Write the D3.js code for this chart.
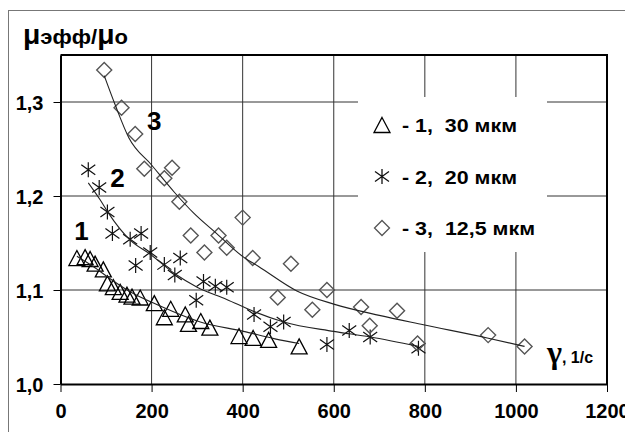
<!DOCTYPE html>
<html>
<head>
<meta charset="utf-8">
<script src="https://cdn.jsdelivr.net/npm/d3@7"></script>
<style>
  body { margin: 0; background: #fff; }
  text { font-family: "Liberation Sans", Arial, sans-serif; font-weight: bold; fill: #000; }
</style>
</head>
<body>
<div id="chart"></div>
<script>
// ticks
var xTicks = [0, 200, 400, 600, 800, 1000, 1200];
var yTicks = [1.0, 1.1, 1.2, 1.3];

// series 1 - 30 mkm (triangles)
var s1Shear = [36, 54, 65, 76, 94, 103, 116, 131, 146, 157, 175, 206, 228, 242, 274, 281, 308, 328, 392, 423, 457, 524];
var s1Visc = [1.134, 1.135, 1.133, 1.128, 1.122, 1.107, 1.103, 1.098, 1.095, 1.093, 1.092, 1.086, 1.071, 1.080, 1.074, 1.064, 1.067, 1.060, 1.051, 1.049, 1.047, 1.040];
var s1LineX = [36, 72, 109, 150, 219, 307, 402, 471, 524];
var s1LineY = [1.136, 1.125, 1.112, 1.099, 1.083, 1.066, 1.056, 1.048, 1.043];

// series 2 - 20 mkm (asterisks)
var s2Shear = [61, 85, 103, 114, 153, 165, 177, 197, 228, 251, 263, 298, 314, 340, 365, 425, 461, 490, 585, 634, 680, 786];
var s2Visc = [1.228, 1.209, 1.183, 1.160, 1.154, 1.126, 1.160, 1.140, 1.127, 1.116, 1.134, 1.089, 1.109, 1.104, 1.103, 1.074, 1.061, 1.066, 1.042, 1.057, 1.050, 1.038];
var s2LineX = [61, 87, 105, 153, 197, 252, 300, 365, 425, 490, 600, 680, 786];
var s2LineY = [1.214, 1.196, 1.182, 1.153, 1.138, 1.117, 1.103, 1.090, 1.077, 1.066, 1.056, 1.050, 1.040];

// series 3 - 12,5 mkm (diamonds)
var s3Shear = [96, 134, 164, 184, 228, 245, 261, 286, 316, 347, 365, 400, 422, 477, 506, 553, 585, 660, 679, 739, 784, 939, 1019];
var s3Visc = [1.334, 1.294, 1.266, 1.229, 1.219, 1.230, 1.194, 1.158, 1.140, 1.158, 1.145, 1.177, 1.134, 1.092, 1.128, 1.079, 1.100, 1.082, 1.062, 1.078, 1.043, 1.052, 1.040];
var s3LineX = [96, 120, 150, 200, 250, 292, 343, 402, 435, 519, 600, 700, 797, 937, 1019];
var s3LineY = [1.328, 1.297, 1.262, 1.233, 1.204, 1.182, 1.160, 1.135, 1.125, 1.099, 1.085, 1.073, 1.063, 1.049, 1.040];

var legendLabels = ["- 1,  30 мкм", "- 2,  20 мкм", "- 3,  12,5 мкм"];
var curveNames = ["1", "2", "3"];
var curveNameX = [30, 109, 190];
var curveNameY = [1.153, 1.210, 1.270];

var W = 625, H = 432;
var svg = d3.select("#chart").append("svg")
  .attr("width", W)
  .attr("height", H);

var x = d3.scaleLinear().domain([0, 1200]).range([60.5, 607]);
var y = d3.scaleLinear().domain([1.0, 1.35]).range([384, 55]);

// outer frame
svg.append("rect")
  .attr("x", 8.5).attr("y", 10.5)
  .attr("width", 700).attr("height", 500)
  .attr("fill", "none")
  .attr("stroke", "#777")
  .attr("stroke-width", 1);

// gridlines
svg.append("g").selectAll("line.gx")
  .data(xTicks.slice(1, -1))
  .enter().append("line")
  .attr("x1", d => x(d)).attr("x2", d => x(d))
  .attr("y1", y(1.35)).attr("y2", y(1.0))
  .attr("stroke", "#333").attr("stroke-width", 1);

svg.append("g").selectAll("line.gy")
  .data(yTicks.slice(1))
  .enter().append("line")
  .attr("x1", x(0)).attr("x2", x(1200))
  .attr("y1", d => y(d)).attr("y2", d => y(d))
  .attr("stroke", "#333").attr("stroke-width", 1);

// legend background hides the grid
svg.append("rect")
  .attr("x", 358).attr("y", 97)
  .attr("width", 189).attr("height", 155)
  .attr("fill", "#fff");

// plot border top / right
svg.append("path")
  .attr("d", "M" + x(0) + "," + y(1.35) + "H" + x(1200) + "V" + y(1.0))
  .attr("fill", "none")
  .attr("stroke", "#000")
  .attr("stroke-width", 2);

// axes
var xAxis = svg.append("g")
  .attr("transform", "translate(0," + y(1.0) + ")")
  .call(d3.axisBottom(x).tickValues(xTicks).tickSize(8).tickSizeOuter(0).tickFormat(d3.format("d")));
var yAxis = svg.append("g")
  .attr("transform", "translate(" + x(0) + ",0)")
  .call(d3.axisLeft(y).tickValues(yTicks).tickSize(7).tickSizeOuter(0)
    .tickFormat(d => d3.format(".1f")(d).replace(".", ",")));

[xAxis, yAxis].forEach(function (a) {
  a.select(".domain").attr("stroke", "#000").attr("stroke-width", 2);
  a.selectAll(".tick line").attr("stroke", "#000").attr("stroke-width", 1);
  a.selectAll("text")
    .style("font-family", "'Liberation Sans', Arial, sans-serif")
    .style("font-weight", "bold")
    .style("font-size", "20px")
    .attr("fill", "#000");
});
xAxis.selectAll("text").attr("y", 20).attr("dy", "0.71em");
yAxis.selectAll("text").attr("x", -17).attr("dy", "0.36em");

// marker shapes
var triPath = "M0,-7.5L8,7.5L-8,7.5Z";
var diaPath = "M0,-7.5L7.5,0L0,7.5L-7.5,0Z";
var starPath = "M0,-7.5V7.5M-7,-5L7,5M-7,5L7,-5";

function drawSeries(xs, ys, shape, color, width) {
  svg.append("g").selectAll("path")
    .data(xs)
    .enter().append("path")
    .attr("d", shape)
    .attr("transform", (d, i) => "translate(" + x(d) + "," + y(ys[i]) + ")")
    .attr("fill", "none")
    .attr("stroke", color)
    .attr("stroke-width", width);
}

drawSeries(s1Shear, s1Visc, triPath, "#000", 1.3);
drawSeries(s2Shear, s2Visc, starPath, "#111", 1.2);
drawSeries(s3Shear, s3Visc, diaPath, "#555", 1.4);

// trend curves
var line = d3.line()
  .x(d => x(d[0]))
  .y(d => y(d[1]))
  .curve(d3.curveMonotoneX);

[[s1LineX, s1LineY], [s2LineX, s2LineY], [s3LineX, s3LineY]].forEach(function (s) {
  svg.append("path")
    .datum(s[0].map((v, i) => [v, s[1][i]]))
    .attr("d", line)
    .attr("fill", "none")
    .attr("stroke", "#222")
    .attr("stroke-width", 1.1);
});

// curve numbers
svg.append("g").selectAll("text")
  .data(curveNames)
  .enter().append("text")
  .attr("x", (d, i) => x(curveNameX[i]))
  .attr("y", (d, i) => y(curveNameY[i]))
  .style("font-size", "26px")
  .text(d => d);

// legend
var legendShapes = [triPath, starPath, diaPath];
var legendColors = ["#000", "#111", "#555"];
var legend = svg.append("g").selectAll("g")
  .data(legendLabels)
  .enter().append("g")
  .attr("transform", (d, i) => "translate(382," + (125 + i * 51.5) + ")");

legend.append("path")
  .attr("d", (d, i) => legendShapes[i])
  .attr("fill", "none")
  .attr("stroke", (d, i) => legendColors[i])
  .attr("stroke-width", 1.3);

legend.append("text")
  .attr("x", 20)
  .attr("y", 7)
  .style("font-size", "18px")
  .style("white-space", "pre")
  .attr("textLength", (d, i) => i === 2 ? 133 : 115)
  .attr("lengthAdjust", "spacingAndGlyphs")
  .text(d => d);

// axis titles
var yt = svg.append("text")
  .attr("x", 23)
  .attr("y", 44)
  .attr("textLength", 105)
  .attr("lengthAdjust", "spacingAndGlyphs");
yt.append("tspan").style("font-size", "27px").text("μ");
yt.append("tspan").style("font-size", "21px").text("эфф/");
yt.append("tspan").style("font-size", "27px").text("μ");
yt.append("tspan").style("font-size", "21px").text("о");

var xt = svg.append("text")
  .attr("x", 547)
  .attr("y", 363);
xt.append("tspan")
  .style("font-family", "'Liberation Serif', 'Times New Roman', serif")
  .style("font-weight", "bold")
  .style("font-size", "32px")
  .text("γ");
xt.append("tspan")
  .style("font-size", "16px")
  .style("white-space", "pre")
  .text(", 1/с");
</script>
</body>
</html>
